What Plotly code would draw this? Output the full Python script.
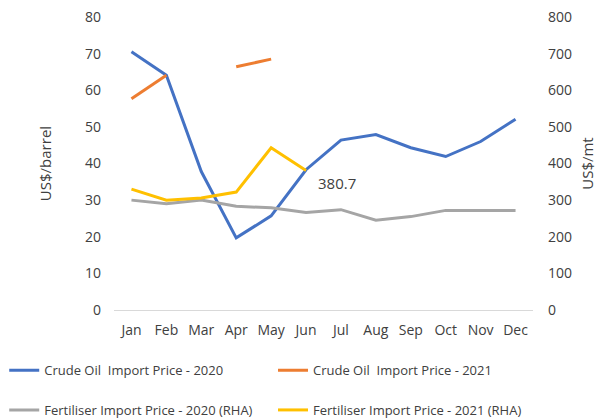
import plotly.graph_objects as go

months = ["Jan", "Feb", "Mar", "Apr", "May", "Jun", "Jul", "Aug", "Sep", "Oct", "Nov", "Dec"]
crude_2020 = [70.5, 64.1, 37.8, 19.7, 25.7, 38.3, 46.4, 47.9, 44.3, 41.9, 46.0, 52.1]
crude_2021 = [57.7, 64.1, None, 66.4, 68.5, None, None, None, None, None, None, None]
fert_2020 = [300, 290, 300, 283, 279, 266, 274, 245, 255, 272, 272, 272]
fert_2021 = [330, 300, 306, 322, 443, 380.7, None, None, None, None, None, None]
label_month = "Jun"
label_value = 380.7

FONT = "Open Sans"
TXT = "#404040"
fig = go.Figure()
fig.add_trace(go.Scatter(x=months, y=crude_2020, mode="lines", name="Crude Oil  Import Price - 2020",
                         line=dict(color="#4472C4", width=3), legend="legend"))
fig.add_trace(go.Scatter(x=months, y=crude_2021, mode="lines", name="Crude Oil  Import Price - 2021",
                         line=dict(color="#ED7D31", width=3), connectgaps=False, legend="legend2"))
fig.add_trace(go.Scatter(x=months, y=fert_2020, mode="lines", name="Fertiliser Import Price - 2020 (RHA)",
                         line=dict(color="#A5A5A5", width=3), yaxis="y2", legend="legend3"))
fig.add_trace(go.Scatter(x=months, y=fert_2021, mode="lines", name="Fertiliser Import Price - 2021 (RHA)",
                         line=dict(color="#FFC000", width=3), yaxis="y2", legend="legend4"))

fig.add_annotation(x=label_month, y=label_value, xref="x", yref="y2", text=f"{label_value}",
                   showarrow=False, xanchor="left", yanchor="middle", xshift=10, yshift=-12,
                   font=dict(family=FONT, size=15, color=TXT))

leg_common = dict(orientation="h", xanchor="left", yanchor="top",
                  font=dict(size=13, color=TXT), itemwidth=30)
col1, col2 = -0.262, 0.3795
row1, row2 = -0.155, -0.29

fig.update_layout(
    width=598, height=420,
    margin=dict(l=114, r=65, t=17, b=110, autoexpand=False),
    paper_bgcolor="white", plot_bgcolor="white",
    font=dict(family=FONT, size=13, color=TXT),
    xaxis=dict(range=[-0.5, 11.5], showgrid=False, showline=True, linecolor="#d9d9d9", linewidth=1,
               ticks="", tickfont=dict(size=14, color=TXT), ticklabelstandoff=7),
    yaxis=dict(range=[0, 80], dtick=10, showgrid=False, zeroline=False, showline=False,
               title=dict(text="US$/barrel", font=dict(size=15, color=TXT), standoff=29),
               tickfont=dict(size=14, color=TXT), ticklabelstandoff=12),
    yaxis2=dict(range=[0, 800], dtick=100, overlaying="y", side="right", showgrid=False,
                zeroline=False, showline=False,
                title=dict(text="US$/mt", font=dict(size=15, color=TXT), standoff=11),
                tickfont=dict(size=14, color=TXT), ticklabelstandoff=14),
    showlegend=True,
    legend=dict(x=col1, y=row1, **leg_common),
    legend2=dict(x=col2, y=row1, **leg_common),
    legend3=dict(x=col1, y=row2, **leg_common),
    legend4=dict(x=col2, y=row2, **leg_common),
)

fig.write_html("out.html", config={"displayModeBar": False},
               post_script="document.body.style.margin='0';")
